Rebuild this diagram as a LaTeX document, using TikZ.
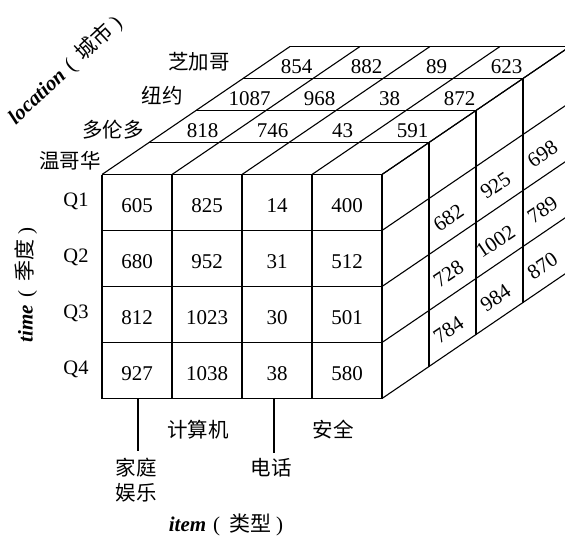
\documentclass[tikz,border=0pt]{standalone}
\usepackage{fontspec}
\setmainfont{Liberation Serif}
\newfontfamily\cjk{Noto Sans CJK SC}
\newcommand{\axistext}[2]{\textbf{\textit{#1}}\hspace{7pt}(\hspace{9pt}{\cjk #2}\hspace{5pt})}
\begin{document}
\begin{tikzpicture}[x=1pt,y=-1pt,
  cubeline/.style={line width=1.1pt, line join=miter, line cap=butt},
  tickline/.style={line width=1.1pt},
  num/.style={font=\fontsize{21}{23}\selectfont, inner sep=0pt},
  rnum/.style={num, rotate=34},
  cjklabel/.style={font=\cjk\fontsize{20.5}{25}\selectfont, inner sep=0pt, align=center},
  qlabel/.style={font=\fontsize{20.5}{22}\selectfont, inner sep=0pt},
  axislabel/.style={font=\fontsize{21}{24}\selectfont, inner sep=0pt}]
\useasboundingbox (0,0) rectangle (565,543);
\clip (0,0) rectangle (565,543);
\fill[white] (0,0) rectangle (565,543);

% ---------- front face ----------
\foreach \c in {0,...,4}
  \draw[cubeline] ({102+70*\c},174.5) -- ({102+70*\c},398.5);
\foreach \r in {0,...,4}
  \draw[cubeline] (102,{174.5+56*\r}) -- (382,{174.5+56*\r});

% ---------- top face ----------
\foreach \k in {0,...,4}
  \draw[cubeline] ({102+47*\k},{174.5-32*\k}) -- ({382+47*\k},{174.5-32*\k});
\foreach \c in {0,...,4}
  \draw[cubeline] ({102+70*\c},174.5) -- ({102+70*\c+188},46.5);

% ---------- right face ----------
\foreach \k in {0,...,4}
  \draw[cubeline] ({382+47*\k},{174.5-32*\k}) -- ({382+47*\k},{398.5-32*\k});
\foreach \r in {0,...,4}
  \draw[cubeline] (382,{174.5+56*\r}) -- (570,{174.5+56*\r-128});

% ---------- front values (Vancouver) ----------
\foreach \v [count=\i from 0] in {605,825,14,400}
  \node[num] (fa\i) at ({137+70*\i},205.5) {\v};
\foreach \v [count=\i from 0] in {680,952,31,512}
  \node[num] (fb\i) at ({137+70*\i},261.5) {\v};
\foreach \v [count=\i from 0] in {812,1023,30,501}
  \node[num] (fc\i) at ({137+70*\i},317.5) {\v};
\foreach \v [count=\i from 0] in {927,1038,38,580}
  \node[num] (fd\i) at ({137+70*\i},373.5) {\v};

% ---------- top values ----------
\foreach \v [count=\i from 0] in {818,746,43,591}
  \node[num] (ta\i) at ({137+70*\i+70.5-5},{174.5-48+4}) {\v};
\foreach \v [count=\i from 0] in {1087,968,38,872}
  \node[num] (tb\i) at ({137+70*\i+117.5-5},{174.5-80+4}) {\v};
\foreach \v [count=\i from 0] in {854,882,89,623}
  \node[num] (tc\i) at ({137+70*\i+164.5-5},{174.5-112+4}) {\v};

% ---------- right values ----------
\foreach \v [count=\r from 1] in {682,728,784}
  \node[rnum] (ra\r) at ({452.5-4},{174.5+56*\r+28-48+7}) {\v};
\foreach \v [count=\r from 1] in {925,1002,984}
  \node[rnum] (rb\r) at ({499.5-4},{174.5+56*\r+28-80+7}) {\v};
\foreach \v [count=\r from 1] in {698,789,870}
  \node[rnum] (rc\r) at ({546.5-4},{174.5+56*\r+28-112+7}) {\v};

% ---------- city labels ----------
\node[cjklabel] (chi) at (199,62) {芝加哥};
\node[cjklabel] (ny) at (162,96) {纽约};
\node[cjklabel] (tor) at (113,130) {多伦多};
\node[cjklabel] (van) at (70,161) {温哥华};

% ---------- quarter labels ----------
\node[qlabel] (q1) at (76,201) {Q1};
\node[qlabel] (q2) at (76,257) {Q2};
\node[qlabel] (q3) at (76,313) {Q3};
\node[qlabel] (q4) at (76,369) {Q4};

% ---------- item labels ----------
\coordinate (homeTop) at (138,398.5);
\coordinate (phoneTop) at (274,398.5);
\node[cjklabel] (comp) at (198,430) {计算机};
\node[cjklabel] (sec) at (333,430) {安全};
\node[cjklabel] (home) at (136,480) {家庭\\娱乐};
\node[cjklabel] (phone) at (271,468) {电话};
\coordinate (homeBot) at (138,451);
\coordinate (phoneBot) at (274,453);
\draw[tickline] (homeTop) -- (homeBot);
\draw[tickline] (phoneTop) -- (phoneBot);

% ---------- axis labels ----------
\node[axislabel, rotate=43] (loc) at (65,70) {\axistext{location}{城市}};
\node[axislabel, rotate=90] (time) at (26,285) {\axistext{time}{季度}};
\node[axislabel] (item) at (226,525) {\axistext{item}{类型}};
\end{tikzpicture}
\end{document}
